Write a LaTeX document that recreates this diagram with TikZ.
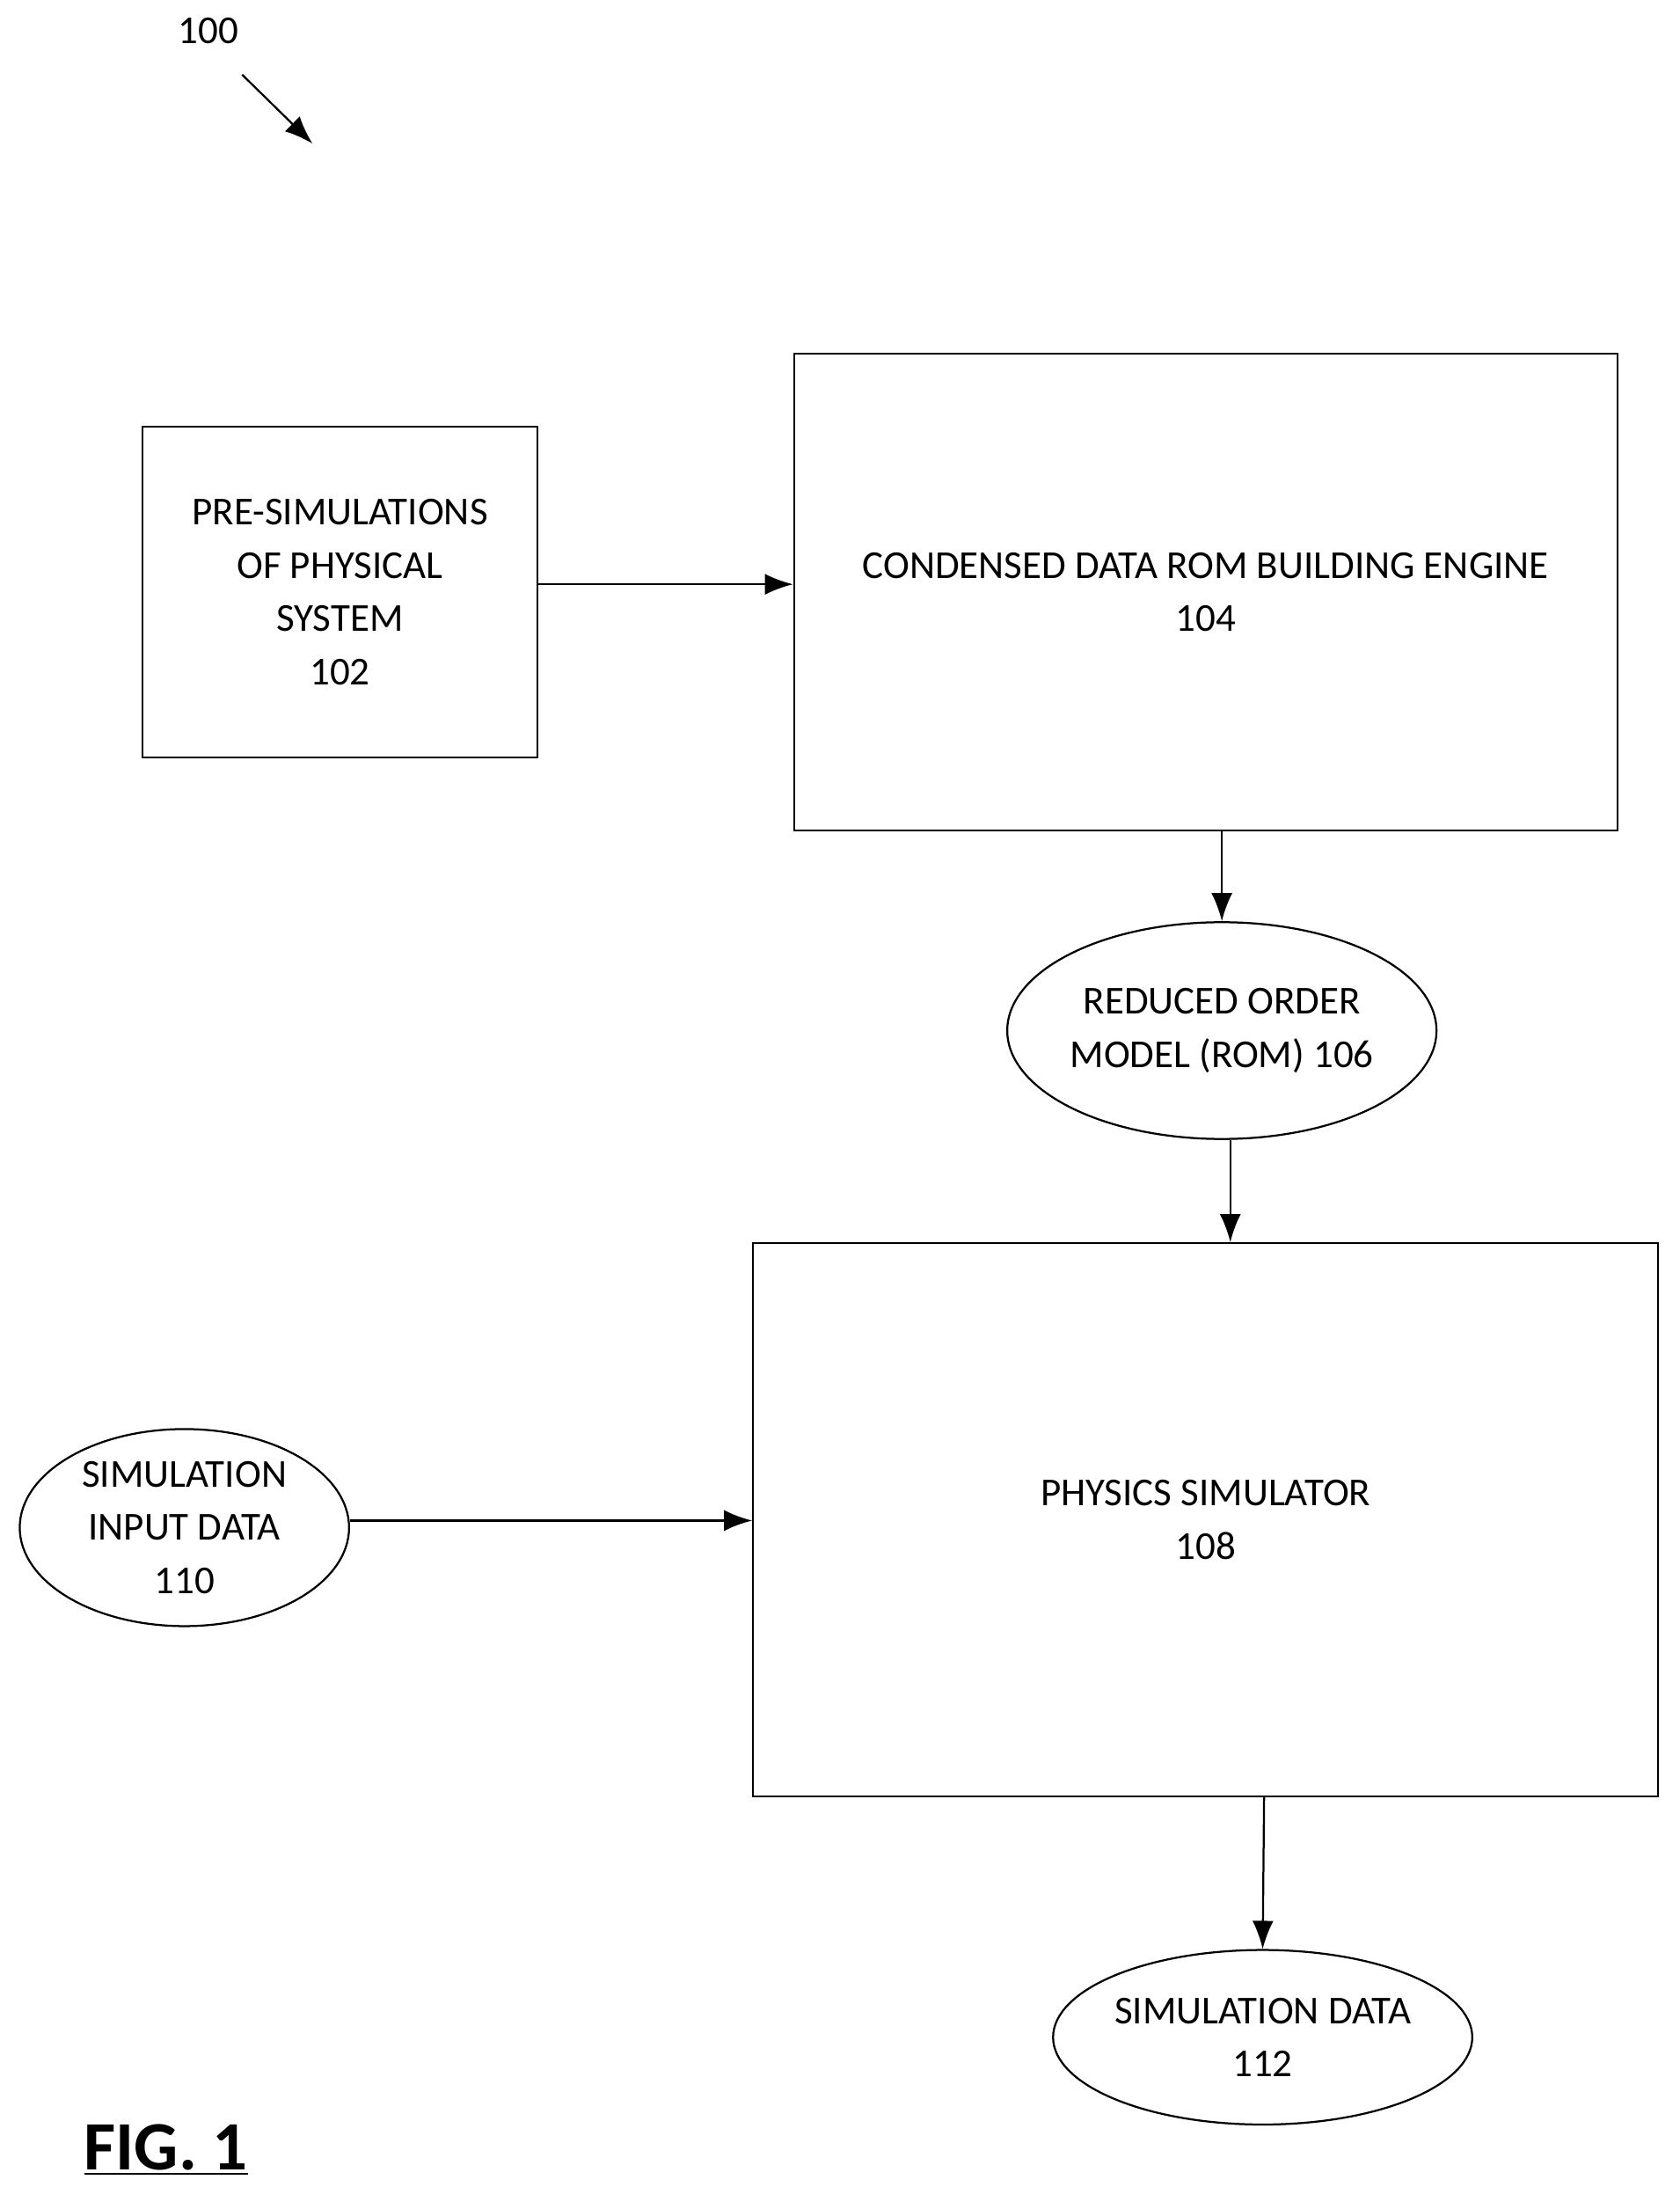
\documentclass[tikz,border=0pt]{standalone}
\usepackage{fontspec}
\setmainfont{Carlito}
\usetikzlibrary{positioning,arrows.meta,shapes.geometric}

\begin{document}
\begin{tikzpicture}[x=0.02cm,y=-0.02cm,
		box/.style={draw, thick, inner sep=0pt, align=center, font=\fontsize{16}{21.5}\selectfont},
		blob/.style={draw, thick, ellipse, inner sep=0pt, align=center, font=\fontsize{16}{21.5}\selectfont},
		flow/.style={thick, -{Latex[length=4mm,width=3mm]}}]
		\useasboundingbox (0,0) rectangle (1193,1569);
		\node[font=\fontsize{16}{20}\selectfont] (ref) at (148,22) {100};
		\coordinate (reftail) at (172,53);
		\coordinate (refhead) at (222,102);
		\draw[flow] (reftail) -- (refhead);
		
		\node[box, minimum width=5.62cm, minimum height=4.7cm] (presim) at (241.5,420.5) {PRE-SIMULATIONS\\OF PHYSICAL\\SYSTEM\\102};
		\node[box, minimum width=11.7cm, minimum height=6.78cm] (engine) at (856.5,420.5) {CONDENSED DATA ROM BUILDING ENGINE\\104};
		\node[blob, minimum width=5.6cm, minimum height=3.08cm] (rom) at (868,732) {REDUCED ORDER\\MODEL (ROM) 106};
		\node[box, minimum width=12.86cm, minimum height=7.86cm] (phys) at (856.5,1079.5) {PHYSICS SIMULATOR\\108};
		\node[blob, minimum width=4.68cm, minimum height=2.8cm] (input) at (131,1085) {SIMULATION\\INPUT DATA\\110};
		\node[blob, minimum width=5.64cm, minimum height=2.48cm] (out) at (897,1447) {SIMULATION DATA\\112};
		
		\draw[flow] (presim.east |- 0,415) -- (engine.west |- 0,415);
		\draw[flow] (engine.south -| 868,0) -- (rom.north);
		\draw[flow] (rom.south -| 874,0) -- (phys.north -| 874,0);
		\draw[flow] (input.east |- 0,1080) -- (phys.west |- 0,1080);
		\draw[flow] (phys.south -| 898,0) -- (out.north);
		
		\node[font=\fontsize{28}{30}\selectfont\bfseries] (fig) at (118,1527) {\underline{FIG. 1}};
\end{tikzpicture}
\end{document}
